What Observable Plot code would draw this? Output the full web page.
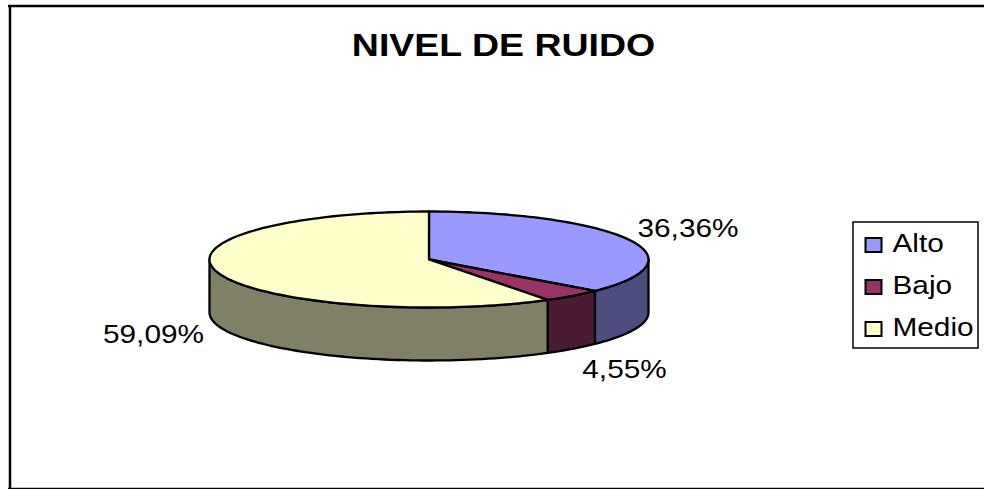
<!DOCTYPE html>
<html>
<head>
<meta charset="utf-8">
<script src="https://cdn.jsdelivr.net/npm/d3@7"></script>
<script src="https://cdn.jsdelivr.net/npm/@observablehq/plot@0.6"></script>
<style>html,body{margin:0;padding:0;background:#fff;overflow:hidden}svg{display:block}</style>
</head>
<body>
<div id="chart"></div>
<script>
const titleText = "NIVEL DE RUIDO";
const categories = ["Alto", "Bajo", "Medio"];
const shares = [36.36, 4.55, 59.09];
const labels = ["36,36%", "4,55%", "59,09%"];
const topColors = ["#9999ff", "#993366", "#ffffcc"];
const sideColors = ["#4d4d80", "#4d1a33", "#808066"];

const W = 984, H = 489;
const cx = 428.5, cy = 259, rx = 219.5, ry = 48, depthPx = 53;
const X = px => (px - cx) / rx;
const Y = py => (cy - py) / ry;
const depth = depthPx / ry;
const font = "Liberation Sans";
const total = d3.sum(shares);
const cum = d3.cumsum(shares);

function arc(a0, a1, drop = 0) {
  const n = Math.max(2, Math.ceil(Math.abs(a1 - a0) / 0.03));
  return d3.range(n + 1).map(i => {
    const a = a0 + (a1 - a0) * i / n;
    return {x: Math.sin(a), y: Math.cos(a) - drop};
  });
}
const slices = shares.map((s, i) => ({
  a0: (cum[i] - s) / total * 2 * Math.PI,
  a1: cum[i] / total * 2 * Math.PI
}));
const line = {x: "x", y: "y", curve: "linear-closed", stroke: "#000", strokeWidth: 2.3, strokeLinejoin: "round"};
const sideMarks = slices.map((s, i) => {
  const a0 = Math.max(s.a0, Math.PI / 2), a1 = Math.min(s.a1, 3 * Math.PI / 2);
  if (a1 <= a0) return null;
  return Plot.line([...arc(a0, a1), ...arc(a1, a0, depth)], {...line, fill: sideColors[i]});
});
const topMarks = slices.map((s, i) =>
  Plot.line([{x: 0, y: 0}, ...arc(s.a0, s.a1)], {...line, fill: topColors[i]}));

const labelPos = [[687.5, 228], [624, 369], [153, 334]];
const txt = (t, px, py, size, o = {}) => Plot.text([t], {
  x: () => X(px), y: () => Y(py), text: d => d, fontSize: size, fontFamily: font,
  fill: "#000", lineAnchor: "middle", textAnchor: "middle", ...o
});
const legendY = [245, 287, 329];

const plot = Plot.plot({
  width: W, height: H,
  marginTop: 0, marginRight: 0, marginBottom: 0, marginLeft: 0,
  style: {background: "#fff"},
  x: {domain: [-1, 1], range: [cx - rx, cx + rx], axis: null},
  y: {domain: [-1, 1], range: [cy + ry, cy - ry], axis: null},
  marks: [
    Plot.ruleX([X(9.5)], {y1: Y(5.5), y2: Y(488.5), stroke: "#000", strokeWidth: 2.5}),
    Plot.ruleY([Y(5.5)], {x1: X(8), x2: X(984), stroke: "#000", strokeWidth: 2.5}),
    Plot.ruleY([Y(488.5)], {x1: X(8), x2: X(984), stroke: "#000", strokeWidth: 2.5}),
    ...sideMarks.filter(Boolean),
    ...topMarks,
    txt(titleText, 503, 45.5, 31.5, {fontWeight: "bold"}),
    ...labels.map((l, i) => txt(l, labelPos[i][0], labelPos[i][1], 26)),
    Plot.rect([0], {x1: X(853), x2: X(978), y1: Y(222), y2: Y(348), fill: "#fff", stroke: "#000", strokeWidth: 1.5}),
    ...categories.flatMap((c, i) => [
      Plot.rect([c], {x1: X(865.5), x2: X(881.5), y1: Y(legendY[i] - 7), y2: Y(legendY[i] + 7), fill: topColors[i], stroke: "#000", strokeWidth: 2}),
      txt(c, 892, legendY[i] - 1.5, 26, {textAnchor: "start"})
    ])
  ]
});
document.getElementById("chart").append(plot);
// the reference's text is stretched horizontally
plot.querySelectorAll("text").forEach(t => {
  const stretch = t.textContent === titleText ? 1.19 : 1.145;
  t.setAttribute("textLength", (t.getComputedTextLength() * stretch).toFixed(1));
  t.setAttribute("lengthAdjust", "spacingAndGlyphs");
});
</script>
</body>
</html>
